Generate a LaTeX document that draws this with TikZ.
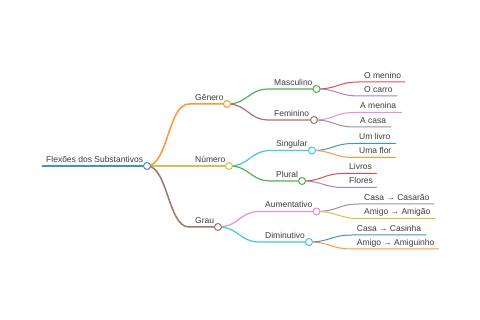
\documentclass[tikz,border=0pt]{standalone}
\usepackage{fontspec}
\setmainfont{Liberation Sans}
\definecolor{cBlue0}{HTML}{1F77B4}
\definecolor{cOrange0}{HTML}{FF7F0E}
\definecolor{cGreen0}{HTML}{2CA02C}
\definecolor{cRed0}{HTML}{D62728}
\definecolor{cPurple0}{HTML}{9467BD}
\definecolor{cBrown0}{HTML}{8C564B}
\definecolor{cPink0}{HTML}{E377C2}
\definecolor{cGray0}{HTML}{7F7F7F}
\definecolor{cOlive0}{HTML}{BCBD22}
\definecolor{cCyan0}{HTML}{17BECF}
\colorlet{cBlue}{cBlue0!82!white}
\colorlet{cOrange}{cOrange0!82!white}
\colorlet{cGreen}{cGreen0!82!white}
\colorlet{cRed}{cRed0!82!white}
\colorlet{cPurple}{cPurple0!82!white}
\colorlet{cBrown}{cBrown0!82!white}
\colorlet{cPink}{cPink0!82!white}
\colorlet{cGray}{cGray0!82!white}
\colorlet{cOlive}{cOlive0!82!white}
\colorlet{cCyan}{cCyan0!82!white}
\definecolor{txtc}{HTML}{3C3C3C}
\begin{document}
\begin{tikzpicture}[x=1pt,y=-1pt,
  lbl/.style={font=\fontsize{8.5}{10}\selectfont, text=txtc, inner sep=0pt, anchor=base west},
  dot/.style={circle, fill=white, minimum size=7pt, inner sep=0pt, line width=1pt},
  w0/.style={line width=2pt},
  w1/.style={line width=1.5pt},
  w2/.style={line width=1.2pt},
  w3/.style={line width=1pt},
  lnk/.style={line cap=round}]
\fill[white] (0,0) rectangle (480,320);
\useasboundingbox (0,0) rectangle (480,320);
% ---------- coordinates ----------
% root
\coordinate (Rs) at (42,166); \coordinate (Re) at (147,166);
% level 1
\coordinate (Gs) at (189,104); \coordinate (Ge) at (227,104);
\coordinate (Ns) at (189,166); \coordinate (Ne) at (229,166);
\coordinate (Us) at (189,227); \coordinate (Ue) at (218,227);
% level 2
\coordinate (Ms) at (269,89);    \coordinate (Me) at (316.5,89);
\coordinate (Fs) at (269,120);   \coordinate (Fe) at (314,120);
\coordinate (Ss) at (271,150.5); \coordinate (Se) at (312,150.5);
\coordinate (Ps) at (271,181);   \coordinate (Pe) at (302,181);
\coordinate (As) at (260,211.5); \coordinate (Ae) at (316.5,211.5);
\coordinate (Ds) at (260,242);   \coordinate (De) at (309,242);
% leaves
\coordinate (L1s) at (359,82);    \coordinate (L1e) at (405,82);
\coordinate (L2s) at (359,96);    \coordinate (L2e) at (397,96);
\coordinate (L3s) at (355,112.5); \coordinate (L3e) at (401.5,112.5);
\coordinate (L4s) at (355,127);   \coordinate (L4e) at (391,127);
\coordinate (L5s) at (354,143.5); \coordinate (L5e) at (395.5,143.5);
\coordinate (L6s) at (354,157.5); \coordinate (L6e) at (395.5,157.5);
\coordinate (L7s) at (344,173.5); \coordinate (L7e) at (376.5,173.5);
\coordinate (L8s) at (344,187.5); \coordinate (L8e) at (376.5,187.5);
\coordinate (L9s) at (359,204);   \coordinate (L9e) at (434,204);
\coordinate (L10s) at (359,218.5);\coordinate (L10e) at (435,218.5);
\coordinate (L11s) at (352,235);  \coordinate (L11e) at (426,235);
\coordinate (L12s) at (352,249);  \coordinate (L12e) at (438.5,249);
% ---------- lines and links ----------
\draw[cBlue,w0] (Rs) -- (Re);
\foreach \p/\c/\col/\w in {R/G/cOrange/w1, R/N/cOlive/w1, R/U/cBrown/w1,
   G/M/cGreen/w2, G/F/cBrown/w2, N/S/cCyan/w2, N/P/cGreen/w2, U/A/cPink/w2, U/D/cCyan/w2,
   M/L1/cRed/w3, M/L2/cPurple/w3, F/L3/cPink/w3, F/L4/cGray/w3,
   S/L5/cBlue/w3, S/L6/cOrange/w3, P/L7/cRed/w3, P/L8/cPurple/w3,
   A/L9/cGray/w3, A/L10/cOlive/w3, D/L11/cBlue/w3, D/L12/cOrange/w3}{
  \draw[\col,\w,lnk] (\p e) .. controls ([xshift=21pt]\p e) and ([xshift=-21pt]\c s) .. (\c s) -- (\c e);
}
% ---------- circles ----------
\node[dot,draw=cBlue]   (Rc) at (Re) {};
\node[dot,draw=cOrange] (Gc) at (Ge) {};
\node[dot,draw=cOlive]  (Nc) at (Ne) {};
\node[dot,draw=cBrown]  (Uc) at (Ue) {};
\node[dot,draw=cGreen]  (Mc) at (Me) {};
\node[dot,draw=cBrown]  (Fc) at (Fe) {};
\node[dot,draw=cCyan]   (Sc) at (Se) {};
\node[dot,draw=cGreen]  (Pc) at (Pe) {};
\node[dot,draw=cPink]   (Ac) at (Ae) {};
\node[dot,draw=cCyan]   (Dc) at (De) {};
% ---------- labels ----------
\node[lbl] (Rt) at (46,162.5) {Flexões dos Substantivos};
\node[lbl] (Gt) at (195,101) {Gênero};
\node[lbl] (Nt) at (195,162.5) {Número};
\node[lbl] (Ut) at (195,223.5) {Grau};
\node[lbl] (Mt) at (274,85.5) {Masculino};
\node[lbl] (Ft) at (274,116.5) {Feminino};
\node[lbl] (St) at (276,147) {Singular};
\node[lbl] (Pt) at (276,177.5) {Plural};
\node[lbl] (At) at (265,208) {Aumentativo};
\node[lbl] (Dt) at (265,238.5) {Diminutivo};
\node[lbl] (L1t) at (364,78.5) {O menino};
\node[lbl] (L2t) at (364,92.5) {O carro};
\node[lbl] (L3t) at (360,109) {A menina};
\node[lbl] (L4t) at (360,123.5) {A casa};
\node[lbl] (L5t) at (359,140) {Um livro};
\node[lbl] (L6t) at (359,154) {Uma flor};
\node[lbl] (L7t) at (349,170) {Livros};
\node[lbl] (L8t) at (349,184) {Flores};
\node[lbl] (L9t) at (364,200.5) {Casa → Casarão};
\node[lbl] (L10t) at (364,215) {Amigo → Amigão};
\node[lbl] (L11t) at (356.7,231.5) {Casa → Casinha};
\node[lbl] (L12t) at (356.7,245.5) {Amigo → Amiguinho};
\end{tikzpicture}
\end{document}
